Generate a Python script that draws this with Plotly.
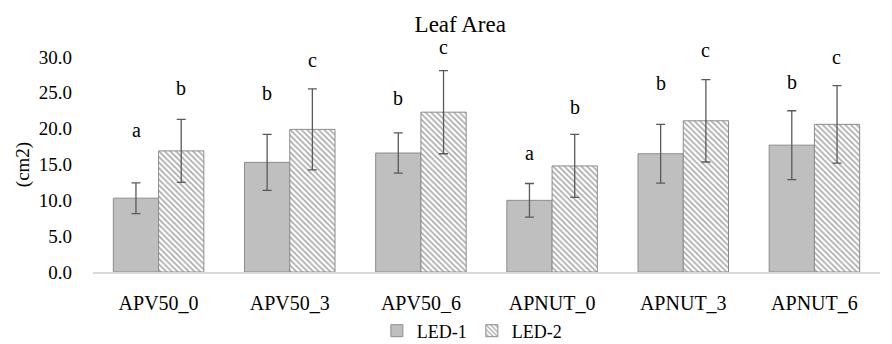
import plotly.graph_objects as go

categories = ["APV50_0", "APV50_3", "APV50_6", "APNUT_0", "APNUT_3", "APNUT_6"]
led1 = [10.3, 15.3, 16.6, 10.0, 16.5, 17.7]
led1_err = [2.15, 3.9, 2.8, 2.35, 4.1, 4.8]
led2 = [16.9, 19.9, 22.3, 14.8, 21.1, 20.6]
led2_err = [4.4, 5.65, 5.8, 4.4, 5.75, 5.4]
letters1 = ["a", "b", "b", "a", "b", "b"]
letters1_y = [19.8, 25.0, 24.3, 16.6, 26.4, 26.5]
letters2 = ["b", "c", "c", "b", "c", "c"]
letters2_y = [25.7, 29.6, 31.4, 23.0, 31.0, 30.0]
y_ticks = [0, 5, 10, 15, 20, 25, 30]
Y_MAX = 30

FONT = "'Liberation Serif', 'DejaVu Serif', serif"
ERR = dict(type="data", visible=True, color="#595959", thickness=1.3, width=4.5)

fig = go.Figure()
fig.add_trace(go.Bar(
    name="LED-1", x=categories, y=led1,
    error_y=dict(array=led1_err, **ERR),
    marker=dict(color="#bfbfbf", line=dict(color="#8c8c8c", width=1)),
))
fig.add_trace(go.Bar(
    name="LED-2", x=categories, y=led2,
    error_y=dict(array=led2_err, **ERR),
    marker=dict(color="white", line=dict(color="#8c8c8c", width=1),
                pattern=dict(shape="\\", fgcolor="#505050", bgcolor="white",
                             size=4, solidity=0.38)),
))

for c, t, yv in zip(categories, letters1, letters1_y):
    fig.add_annotation(x=c, y=yv / Y_MAX, text=t, showarrow=False, xshift=-22.5,
                       font=dict(family=FONT, size=20, color="black"),
                       xref="x", yref="y domain", yanchor="middle")
for c, t, yv in zip(categories, letters2, letters2_y):
    fig.add_annotation(x=c, y=yv / Y_MAX, text=t, showarrow=False, xshift=22.5,
                       font=dict(family=FONT, size=20, color="black"),
                       xref="x", yref="y domain", yanchor="middle")

fig.update_layout(
    width=892, height=344,
    margin=dict(l=93, r=12, t=57, b=72, autoexpand=False),
    paper_bgcolor="white", plot_bgcolor="white",
    font=dict(family=FONT, size=19, color="black"),
    title=dict(text="Leaf Area", x=0.516, xanchor="center", y=1 - 24 / 344,
               yanchor="middle", yref="container",
               font=dict(family=FONT, size=23, color="black")),
    barmode="group", bargap=0.31, bargroupgap=0,
    showlegend=True,
    legend=dict(orientation="h", x=0.529, xanchor="center", xref="container",
                y=1 - 331 / 344, yanchor="middle", yref="container",
                font=dict(family=FONT, size=18), itemwidth=30,
                tracegroupgap=0, traceorder="normal"),
    xaxis=dict(showline=True, linecolor="#d9d9d9", linewidth=1.5,
               ticks="", ticklabelstandoff=12, showgrid=False,
               tickfont=dict(family=FONT, size=20)),
    yaxis=dict(range=[0, Y_MAX], tickvals=y_ticks, tickformat=".1f",
               showgrid=False, showline=False, zeroline=False, ticks="",
               ticklabelstandoff=20,
               title=dict(text="(cm2)", standoff=4,
                          font=dict(family=FONT, size=19)),
               tickfont=dict(family=FONT, size=19)),
)

fig.write_html("out.html")
